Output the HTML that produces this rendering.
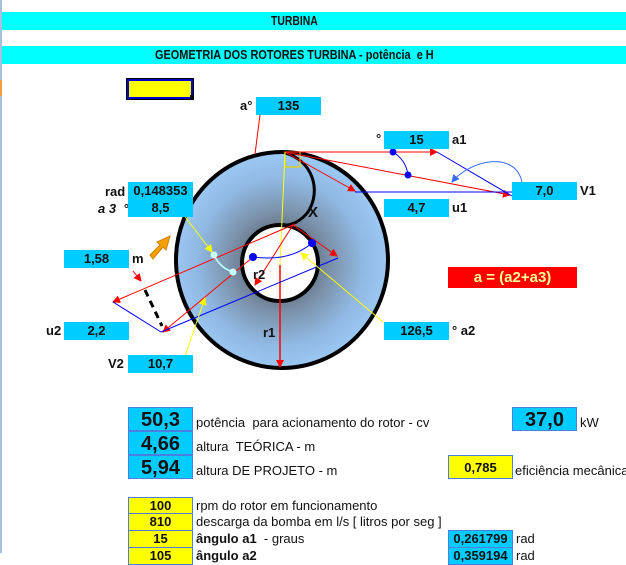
<!DOCTYPE html>
<html><head><meta charset="utf-8">
<style>
body{margin:0;width:626px;height:553px;overflow:hidden;background:#fff;font-family:"Liberation Sans",Arial,sans-serif;position:relative}
.a{position:absolute}
.band{position:absolute;left:2px;width:624px;height:18px;background:#00ffff;font-weight:bold;font-size:13px;line-height:18px;color:#111}
.band span{position:absolute;transform-origin:0 50%;white-space:nowrap}
.c{position:absolute;background:#00ccff;text-align:center;font-weight:bold;font-size:13px;color:#111}
.y{position:absolute;background:#ffff00;text-align:center;font-weight:bold;font-size:13px;color:#111;box-sizing:border-box;border:1px solid #4a7fe0}
.cb{box-sizing:border-box;border:1px solid #4a7fe0}
.l{position:absolute;font-size:13px;color:#111;white-space:nowrap}
.lb{position:absolute;font-size:13px;font-weight:bold;color:#111;white-space:nowrap}
</style></head><body>
<div class="a" style="left:0;top:0;width:2px;height:553px;background:#a8c0e0"></div>
<div class="a" style="left:0;top:80px;width:2px;height:16px;background:#f0a040"></div>
<div class="band" style="top:12px"><span style="left:269px;transform:scaleX(0.8)">TURBINA</span></div>
<div class="band" style="top:46px"><span style="left:153px;transform:scaleX(0.84)">GEOMETRIA DOS ROTORES TURBINA - potência &nbsp;e H</span></div>
<div class="a" style="left:127px;top:79px;width:62px;height:16px;background:#ffff00;border:2px solid #0000cc;outline:1px solid #000"></div>
<div class="a" style="left:190px;top:95px;width:4px;height:4px;background:#000"></div>

<svg class="a" style="left:0;top:0" width="626" height="553">
<defs>
<radialGradient id="g" cx="280" cy="262" r="110" gradientUnits="userSpaceOnUse">
<stop offset="0.3" stop-color="#66768a"/><stop offset="0.45" stop-color="#7a90a8"/><stop offset="0.75" stop-color="#90b8e2"/><stop offset="1" stop-color="#9ccaf6"/></radialGradient>
<marker id="ar" markerWidth="8" markerHeight="8" refX="7" refY="4" orient="auto" markerUnits="userSpaceOnUse"><path d="M0,0 L8,4 L0,8z" fill="#ff0000"/></marker>
<marker id="ay" markerWidth="8" markerHeight="8" refX="7" refY="4" orient="auto" markerUnits="userSpaceOnUse"><path d="M0,0 L8,4 L0,8z" fill="#ffff00"/></marker>
<marker id="ab" markerWidth="8" markerHeight="8" refX="7" refY="4" orient="auto" markerUnits="userSpaceOnUse"><path d="M0,0 L8,4 L0,8z" fill="#3a6cf0"/></marker>
</defs>
<ellipse cx="282" cy="260" rx="106" ry="108" fill="url(#g)" stroke="#000" stroke-width="4"/>
<circle cx="280" cy="263" r="38" fill="#fff" stroke="#000" stroke-width="4"/>
<path d="M285,153 C312,160 322,190 308,212 C300,222 292,225 282,226" fill="none" stroke="#000" stroke-width="3"/>
<rect x="285" y="152" width="15" height="15" fill="none" stroke="#e8d800" stroke-width="1.2"/>
<line x1="260" y1="115" x2="255" y2="154" stroke="#ff0000" stroke-width="1"/>
<line x1="285" y1="152" x2="437" y2="152" stroke="#ff0000" marker-end="url(#ar)"/>
<line x1="285" y1="152" x2="510" y2="195" stroke="#ff0000" marker-end="url(#ar)"/>
<line x1="285" y1="152" x2="355" y2="191" stroke="#ff0000" marker-end="url(#ar)"/>
<line x1="355" y1="192" x2="512" y2="192" stroke="#0000ff"/>
<line x1="437" y1="152" x2="512" y2="196" stroke="#0000ff"/>
<path d="M393,152 Q406,160 408,175" fill="none" stroke="#0000ff"/>
<circle cx="393" cy="152" r="3.5" fill="#0000ff"/><circle cx="408" cy="175" r="3.5" fill="#0000ff"/>
<path d="M522,182 C515,150 470,160 452,182" fill="none" stroke="#3a6cf0" marker-end="url(#ab)"/>
<line x1="285" y1="152" x2="280" y2="265" stroke="#ffff00"/>
<line x1="280" y1="265" x2="280" y2="367" stroke="#ff0000" stroke-width="1.5" marker-end="url(#ar)"/>
<line x1="293" y1="225" x2="255" y2="285" stroke="#ff0000" marker-end="url(#ar)"/>
<line x1="295" y1="224" x2="113" y2="302" stroke="#ff0000" marker-end="url(#ar)"/>
<line x1="253" y1="257" x2="163" y2="332" stroke="#ff0000" marker-end="url(#ar)"/>
<line x1="293" y1="225" x2="337" y2="256" stroke="#ff0000" marker-end="url(#ar)"/>
<line x1="338" y1="258" x2="161" y2="332" stroke="#0000ff"/>
<line x1="113" y1="302" x2="161" y2="332" stroke="#0000ff"/>
<path d="M253,257 Q290,262 312,243" fill="none" stroke="#0000ff"/>
<circle cx="253" cy="257" r="4" fill="#0000ff"/><circle cx="312" cy="243" r="4" fill="#0000ff"/>
<path d="M214,255 Q220,268 233,272" fill="none" stroke="#bff" stroke-width="1.5"/>
<circle cx="214" cy="255" r="3.5" fill="#c8ffff"/><circle cx="233" cy="272" r="3.5" fill="#c8ffff"/>
<line x1="145" y1="290" x2="162" y2="326" stroke="#000" stroke-width="3" stroke-dasharray="7,5"/>
<line x1="133" y1="271" x2="141" y2="281" stroke="#ff0000" marker-end="url(#ar)"/>
<line x1="176" y1="205" x2="212" y2="252" stroke="#ffff00" marker-end="url(#ay)"/>
<line x1="185" y1="356" x2="205" y2="298" stroke="#ffff00" marker-end="url(#ay)"/>
<line x1="383" y1="322" x2="301" y2="253" stroke="#ffff00" marker-end="url(#ay)"/>
<path d="M150,255 L160,245 L157,242 L170,236 L166,250 L163,247 L153,259z" fill="#f5a000" stroke="#d08000"/>
<text x="308" y="217" font-family="Liberation Sans,Arial,sans-serif" font-weight="bold" font-size="15" fill="#111">X</text>
<text x="253" y="279" font-family="Liberation Sans,Arial,sans-serif" font-weight="bold" font-size="13" fill="#111">r2</text>
<text x="263" y="337" font-family="Liberation Sans,Arial,sans-serif" font-weight="bold" font-size="13" fill="#111">r1</text>
</svg>

<div class="lb" style="left:240px;top:98px">a°</div>
<div class="c" style="left:256px;top:97px;width:65px;height:18px;line-height:18px">135</div>
<div class="lb" style="left:376px;top:131px">°</div>
<div class="c" style="left:384px;top:131px;width:65px;height:18px;line-height:18px">15</div>
<div class="lb" style="left:452px;top:132px">a1</div>
<div class="c" style="left:512px;top:182px;width:65px;height:18px;line-height:18px">7,0</div>
<div class="lb" style="left:580px;top:183px">V1</div>
<div class="c" style="left:384px;top:199px;width:65px;height:18px;line-height:18px">4,7</div>
<div class="lb" style="left:452px;top:200px">u1</div>
<div class="lb" style="left:105px;top:184px">rad</div>
<div class="lb" style="left:98px;top:201px;font-style:italic">a 3 &nbsp;°</div>
<div class="c" style="left:128px;top:182px;width:65px;height:35px;line-height:17px">0,148353<br>8,5</div>
<div class="c" style="left:64px;top:250px;width:65px;height:18px;line-height:18px">1,58</div>
<div class="lb" style="left:132px;top:251px">m</div>
<div class="lb" style="left:46px;top:323px">u2</div>
<div class="c" style="left:64px;top:322px;width:65px;height:18px;line-height:18px">2,2</div>
<div class="lb" style="left:108px;top:356px">V2</div>
<div class="c" style="left:128px;top:355px;width:65px;height:18px;line-height:18px">10,7</div>
<div class="c" style="left:384px;top:322px;width:65px;height:18px;line-height:18px">126,5</div>
<div class="lb" style="left:452px;top:323px">° a2</div>
<div class="a" style="left:448px;top:267px;width:129px;height:21px;background:#ff0000;color:#ffff99;font-weight:bold;font-size:15px;line-height:21px;text-align:center">a = (a2+a3)</div>

<div class="c cb" style="left:128px;top:407px;width:65px;height:24px;line-height:24px;font-size:20px">50,3</div>
<div class="c cb" style="left:128px;top:431px;width:65px;height:24px;line-height:24px;font-size:20px">4,66</div>
<div class="c cb" style="left:128px;top:455px;width:65px;height:24px;line-height:24px;font-size:20px">5,94</div>
<div class="l" style="left:196px;top:415px">potência &nbsp;para acionamento do rotor - cv</div>
<div class="l" style="left:196px;top:439px">altura &nbsp;TEÓRICA - m</div>
<div class="l" style="left:196px;top:463px">altura DE PROJETO - m</div>
<div class="c cb" style="left:512px;top:407px;width:65px;height:24px;line-height:24px;font-size:20px">37,0</div>
<div class="l" style="left:580px;top:415px">kW</div>
<div class="y" style="left:448px;top:455px;width:65px;height:24px;line-height:24px">0,785</div>
<div class="l" style="left:515px;top:463px">eficiência mecânica</div>

<div class="y" style="left:128px;top:497px;width:65px;height:17px;line-height:15px">100</div>
<div class="y" style="left:128px;top:513px;width:65px;height:18px;line-height:16px">810</div>
<div class="y" style="left:128px;top:530px;width:65px;height:18px;line-height:16px">15</div>
<div class="y" style="left:128px;top:547px;width:65px;height:18px;line-height:16px">105</div>
<div class="l" style="left:196px;top:498px">rpm do rotor em funcionamento</div>
<div class="l" style="left:196px;top:514px">descarga da bomba em l/s [ litros por seg ]</div>
<div class="l" style="left:196px;top:531px"><b>ângulo a1</b> &nbsp;- graus</div>
<div class="l" style="left:196px;top:548px"><b>ângulo a2</b></div>
<div class="c cb" style="left:448px;top:530px;width:65px;height:18px;line-height:16px">0,261799</div>
<div class="l" style="left:516px;top:531px">rad</div>
<div class="c cb" style="left:448px;top:547px;width:65px;height:18px;line-height:16px">0,359194</div>
<div class="l" style="left:516px;top:548px">rad</div>
</body></html>
